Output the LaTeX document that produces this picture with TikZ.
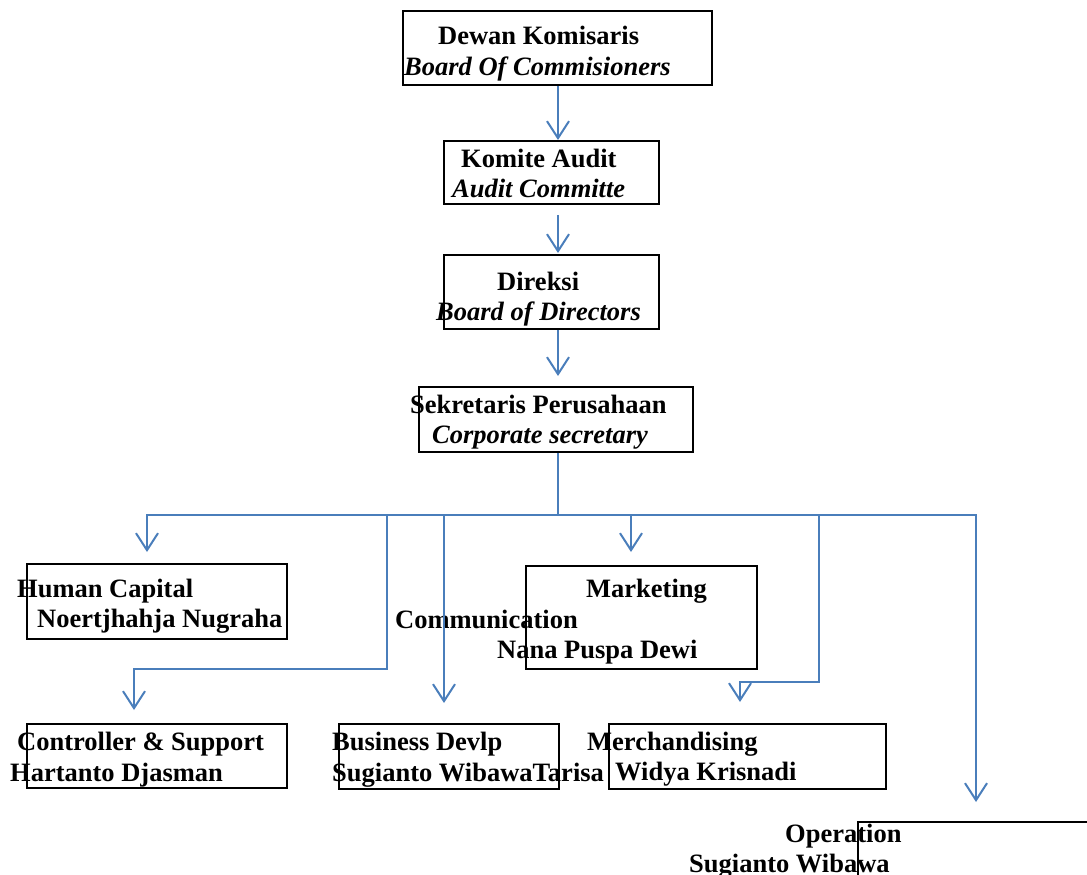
\documentclass[tikz,border=0pt]{standalone}
\usepackage{fontspec}
\setmainfont{Liberation Serif}
\usetikzlibrary{arrows.meta}
\definecolor{linkblue}{RGB}{74,126,187}
\begin{document}
\begin{tikzpicture}[x=1pt,y=-1pt,
  box/.style={draw=black,line width=1.6pt,inner sep=0pt},
  txt/.style={anchor=base west,inner sep=0pt,font=\fontsize{26.5}{30}\selectfont\bfseries},
  itx/.style={anchor=base west,inner sep=0pt,font=\fontsize{26.5}{30}\selectfont\bfseries\itshape},
  bline/.style={draw=linkblue,line width=2pt},
  conn/.style={bline,-{Straight Barb[length=17pt,width=22pt,line width=2pt]}}]
\useasboundingbox (0,0) rectangle (1087,875);
\clip (0,0) rectangle (1087,875);
% texts
\node[txt] (t1a) at (438,45) {Dewan Komisaris};
\node[itx] (t1b) at (404,75) {Board Of Commisioners};
\node[txt] (t2a) at (461,167) {Komite Audit};
\node[itx] (t2b) at (452,197) {Audit Committe};
\node[txt] (t3a) at (497,290) {Direksi};
\node[itx] (t3b) at (436,320) {Board of Directors};
\node[txt] (t4a) at (410,413) {Sekretaris Perusahaan};
\node[itx] (t4b) at (432,443) {Corporate secretary};
\node[txt] (hca) at (17,597) {Human Capital};
\node[txt] (hcb) at (37,627) {Noertjhahja Nugraha};
\node[txt] (mka) at (586,597) {Marketing};
\node[txt] (coa) at (395,628) {Communication};
\node[txt] (cob) at (497,658) {Nana Puspa Dewi};
\node[txt] (csa) at (17,750) {Controller \& Support};
\node[txt] (csb) at (10,781) {Hartanto Djasman};
\node[txt] (bda) at (332,750) {Business Devlp};
\node[txt] (bdb) at (332,781) {Sugianto WibawaTarisa};
\node[txt] (mea) at (587,750) {Merchandising};
\node[txt] (meb) at (615,780) {Widya Krisnadi};
\node[txt] (opa) at (785,842) {Operation};
\node[txt] (opb) at (689,872) {Sugianto Wibawa};
% boxes
\node[box,minimum width=309pt,minimum height=74pt] (b1) at (557.5,48) {};
\node[box,minimum width=215pt,minimum height=63pt] (b2) at (551.5,172.5) {};
\node[box,minimum width=215pt,minimum height=74pt] (b3) at (551.5,292) {};
\node[box,minimum width=274pt,minimum height=65pt] (b4) at (556,419.5) {};
\node[box,minimum width=260pt,minimum height=75pt] (hc) at (157,601.5) {};
\node[box,minimum width=231pt,minimum height=103pt] (mk) at (641.5,617.5) {};
\node[box,minimum width=260pt,minimum height=64pt] (cs) at (157,756) {};
\node[box,minimum width=220pt,minimum height=65pt] (bd) at (449,756.5) {};
\node[box,minimum width=277pt,minimum height=65pt] (me) at (747.5,756.5) {};
\node[box,minimum width=242pt,minimum height=78pt] (op) at (979,861) {};
% connector ends
\coordinate (a1) at (558,140);
\coordinate (a2) at (558,253);
\coordinate (a3) at (558,376);
\coordinate (bus) at (558,515);
\coordinate (ahc) at (147,552);
\coordinate (amk) at (631,552);
\coordinate (abd) at (444,703);
\coordinate (aop) at (976,802);
\coordinate (kcs) at (387,669);
\coordinate (acs) at (134,710);
\coordinate (kme) at (819,682);
\coordinate (ame) at (740,702);
% connectors
\draw[conn] (b1.south -| a1) -- (a1);
\draw[conn] ([yshift=-10pt]b2.south -| a2) -- (a2);
\draw[conn] (b3.south -| a3) -- (a3);
\draw[bline] (b4.south -| bus) -- (bus);
\draw[conn] (bus) -| (ahc);
\draw[conn] (bus) -| (amk);
\draw[conn] (bus) -| (abd);
\draw[conn] (bus) -| (aop);
\draw[conn] (bus) -| (kcs) -| (acs);
\draw[conn] (bus) -| (kme) -| (ame);
\end{tikzpicture}
\end{document}
